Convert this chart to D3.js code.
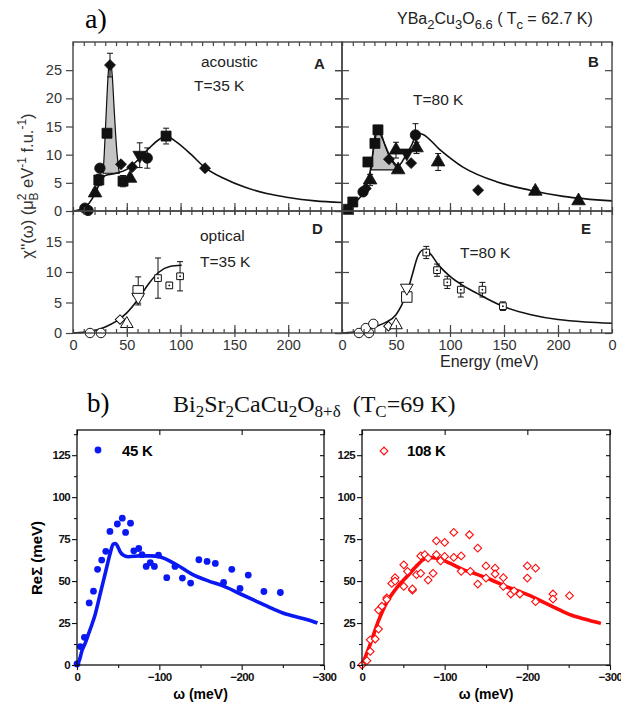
<!DOCTYPE html>
<html>
<head>
<meta charset="utf-8">
<script src="https://cdn.jsdelivr.net/npm/d3@7"></script>
<style>
  body { margin: 0; background: #fff; }
  svg { display: block; }
</style>
</head>
<body>
<div id="vis"></div>
<script>
// ---------- data: a) YBa2Cu3O6.6 ----------
const ENERGY_TICKS = [0, 50, 100, 150, 200, 250];
const ENERGY_MINOR = d3.range(0, 251, 10);
const CHI_TICKS_TOP = [0, 5, 10, 15, 20, 25];
const CHI_TICKS_BOT = [0, 5, 10, 15];

// acoustic, T=35 K  (e = energy meV, v = chi'', m = marker, err = error bar)
const acoustic35 = [
  {e: 11, v: 0.5, m: "circle"}, {e: 14, v: 0.1, m: "circle"}, {e: 13, v: 0.3, m: "diamond"},
  {e: 20.5, v: 3.2, m: "triangle", err: 0.6}, {e: 24, v: 5.5, m: "square", err: 1},
  {e: 25, v: 7.6, m: "circle"}, {e: 31.6, v: 13.8, m: "square"},
  {e: 34.4, v: 25.9, m: "diamond", err: 2.1}, {e: 44.6, v: 8.3, m: "diamond"},
  {e: 46.5, v: 5.3, m: "square", err: 1, xerr: 3}, {e: 53, v: 5.8, m: "triangle"},
  {e: 55, v: 7.8, m: "diamond"}, {e: 62, v: 9.9, m: "down", err: 2.2},
  {e: 69, v: 9.4, m: "circle", err: 1.8}, {e: 86.5, v: 13.3, m: "square", err: 1.4},
  {e: 122.7, v: 7.6, m: "diamond"}
];
// acoustic, T=80 K
const acoustic80 = [
  {e: 6, v: 0.3, m: "square"}, {e: 10, v: 1.6, m: "square"}, {e: 19.5, v: 3.4, m: "circle"},
  {e: 22, v: 4, m: "diamond"}, {e: 26, v: 5.5, m: "triangle", err: 1},
  {e: 24, v: 8.7, m: "square"}, {e: 30.5, v: 12, m: "square"},
  {e: 33.3, v: 14.4, m: "square", err: 0.8}, {e: 43.5, v: 9.2, m: "diamond"},
  {e: 50, v: 10.8, m: "triangle", err: 1.4}, {e: 52, v: 7.3, m: "triangle"},
  {e: 60, v: 10.3, m: "down"}, {e: 64, v: 8.5, m: "diamond"},
  {e: 69, v: 11.2, m: "triangle", err: 1}, {e: 68, v: 13.5, m: "circle", err: 2},
  {e: 89, v: 8.7, m: "triangle", err: 1.5}, {e: 126, v: 3.7, m: "diamond"},
  {e: 179, v: 3.5, m: "triangle", err: 0.6}, {e: 219, v: 1.8, m: "triangle", err: 0.5}
];
// optical, T=35 K
const optical35 = [
  {e: 15.8, v: 0, m: "circle"}, {e: 26, v: 0, m: "circle", err: 0.4},
  {e: 43.7, v: 2.2, m: "diamond"}, {e: 50, v: 1.5, m: "triangle"},
  {e: 60.6, v: 6.9, m: "osq", err: 2.3}, {e: 60.6, v: 5.9, m: "down", err: 1},
  {e: 79, v: 9, m: "dsq", err: 3.3}, {e: 89.5, v: 7.8, m: "dsq", err: 0.5},
  {e: 99.5, v: 9.3, m: "dsq", err: 2.4}
];
// optical, T=80 K
const optical80 = [
  {e: 15.7, v: 0, m: "circle"}, {e: 25, v: 0, m: "circle"}, {e: 22, v: 0.8, m: "circle"},
  {e: 29, v: 1.5, m: "circle"}, {e: 43, v: 1.1, m: "diamond"}, {e: 50, v: 1.3, m: "triangle"},
  {e: 60, v: 5.9, m: "osq"}, {e: 60, v: 7.4, m: "down"},
  {e: 78, v: 13.2, m: "dsq", err: 1}, {e: 88, v: 10.3, m: "dsq", err: 1},
  {e: 97.5, v: 8.3, m: "dsq", err: 1}, {e: 110, v: 7.1, m: "dsq", err: 1.2, xerr: 2.5},
  {e: 130, v: 7.1, m: "dsq", err: 1.2, xerr: 2.5}, {e: 149, v: 4.4, m: "dsq", err: 0.7, xerr: 2.5}
];

// model curves [energy, chi'']
const fitA = [[0,0],[10,0.5],[20,2.9],[25,5],[30,6.3],[40,6.7],[50,7.4],[60,9],[70,11],[80,12.7],[87,13.3],[95,12.4],
  [110,10],[122,7.8],[140,5.8],[160,4.2],[180,3.1],[200,2.4],[225,1.8],[250,1.5]];
const fitB = [[0,0],[10,1.2],[20,3.5],[26,7],[30,12],[33,14.5],[37,13],[45,9.5],[52,8],[58,9.5],[64,11.5],[70,13.8],
  [75,13.6],[90,11],[112,7.8],[143,5.2],[174,3.7],[205,2.6],[250,1.8]];
const fitD = [[0,0],[10,0.1],[20,0.4],[30,1],[40,1.9],[50,3.3],[60,5.4],[70,8],[80,10],[90,10.9],[101,11.1]];
const fitE = [[0,0],[10,0.1],[20,0.4],[30,1],[40,1.7],[50,3],[55,4.5],[60,6.5],[65,9.5],[70,12.5],[75,13.6],[80,13.3],
  [90,11],[100,9.3],[110,8],[125,6.5],[150,4.3],[175,3],[200,2.2],[225,1.8],[250,1.6]];
// shaded resonance peaks
const peakA = [[28,6.7],[29,10],[30.5,16],[32,22],[33.5,26],[35,26.5],[36.5,24],[38,19],[39.5,14],[41,10],[43,6.7]];
const peakB = [[27,7.3],[29,11],[31,14],[33.5,14.8],[36,14],[40,11.5],[45,9.3],[52,7.3]];

// ---------- data: b) Bi2Sr2CaCu2O8+d ----------
const OMEGA_TICKS = [0, -100, -200, -300];
const OMEGA_MINOR = [-50, -150, -250];
const RESIGMA_TICKS = [0, 25, 50, 75, 100, 125];
const RESIGMA_MINOR = [12.5, 37.5, 62.5, 87.5, 112.5, 137.5];

const dots45K = [[0,0.6],[-4,11],[-9,16.5],[-14.8,37],[-20,44],[-25,57],[-30,62.5],[-35,67.7],[-40,79.6],[-49,84],
  [-55,87.5],[-59,79],[-65,84.5],[-69,68],[-75,69.4],[-79,65.7],[-84,58.7],[-89,61],[-94,58.7],[-99,65.5],
  [-109,52],[-119,58.7],[-128,51.8],[-138,48.8],[-148,62.7],[-158,61.7],[-168,60.5],[-178,49.2],[-188,57],
  [-198,45.6],[-208,53.6],[-227,43.8],[-247,43.2]];
const model45K = [[0,0],[-3,3],[-6,8.5],[-10,13],[-14,18.5],[-18,24],[-22,30],[-28,42],[-32,50],[-35,56],[-40,66],
  [-44,72],[-47,72.4],[-50,70],[-53,67],[-56,65.5],[-62,64.5],[-76,65],[-90,65],[-100,64.5],[-120,60],[-140,54],
  [-160,50],[-178,47],[-200,42],[-220,37.5],[-240,33],[-250,31],[-260,29.5],[-280,27],[-292,25]];
const dots108K = [[0,0],[-6,2.6],[-10,8.1],[-10,15],[-16,15.5],[-20,21.4],[-20,32.7],[-24,35],[-30,40],[-30,39],
  [-36,48.6],[-40,52],[-40,50],[-50.6,59.7],[-50.6,46.8],[-55,55.8],[-61,44.6],[-61,45.3],[-66,53.8],[-71,54.6],
  [-71,65],[-76,65.7],[-80,50.6],[-80,63.7],[-86,54.6],[-90,74],[-90,65.7],[-95,62],[-100,73],[-100,64.7],
  [-111,79],[-111,64.1],[-120,55.8],[-120,65],[-130,77.6],[-131,55.8],[-140,69.6],[-140,48.2],[-150,59],
  [-150,51.8],[-161,57.7],[-161,54.2],[-171,52],[-171,46.8],[-180,42.3],[-184,44.2],[-191,42.3],[-200,59],
  [-200,51.8],[-210,57.7],[-210,37.7],[-231,42.3],[-231,39.3],[-251,41.3]];
const model108K = [[0,0],[-5,6],[-10,12.5],[-20,26.4],[-30,37.3],[-42,46],[-55,53],[-67,59.5],[-75,63],[-83,64],
  [-95,63],[-107,60.5],[-123,56.7],[-139,54],[-156,50.8],[-172,47.2],[-188,44.2],[-204,41.2],[-220,37.3],
  [-237,33.3],[-253,29.8],[-269,27.4],[-289,24.8]];

// ---------- frame ----------
const WIDTH = 621, HEIGHT = 704;
const SANS = "'Liberation Sans', Arial, sans-serif";
const SERIF = "'Liberation Serif', 'Times New Roman', serif";

const svg = d3.select("#vis").append("svg")
  .attr("width", WIDTH).attr("height", HEIGHT)
  .style("background", "#fff");

// ---------- a) four small panels ----------
const topPanels = [
  {name: "A", x0: 73, x1: 342, y0: 42, y1: 211, ymax: 30, yTicks: CHI_TICKS_TOP, pts: acoustic35, fit: fitA, peak: peakA, open: false, leftLabels: true, bottomLabels: false},
  {name: "B", x0: 342, x1: 612, y0: 42, y1: 211, ymax: 30, yTicks: CHI_TICKS_TOP, pts: acoustic80, fit: fitB, peak: peakB, open: false, leftLabels: false, bottomLabels: false},
  {name: "D", x0: 73, x1: 342, y0: 211, y1: 333, ymax: 20, yTicks: CHI_TICKS_BOT, pts: optical35, fit: fitD, peak: null, open: true, leftLabels: true, bottomLabels: true},
  {name: "E", x0: 342, x1: 612, y0: 211, y1: 333, ymax: 20, yTicks: CHI_TICKS_BOT, pts: optical80, fit: fitE, peak: null, open: true, leftLabels: false, bottomLabels: true}
];

function markerPath(m, open) {
  const sym = d3.symbol();
  if (m === "square") return sym.type(d3.symbolSquare).size(100)();
  if (m === "osq") return sym.type(d3.symbolSquare).size(110)();
  if (m === "dsq") return sym.type(d3.symbolSquare).size(45)();
  if (m === "circle") return sym.type(d3.symbolCircle).size(open ? 70 : 85)();
  if (m === "diamond") return sym.type(d3.symbolSquare).size(open ? 45 : 60)();
  return sym.type(d3.symbolTriangle).size(open ? 70 : 80)();
}
function markerRotate(m) {
  if (m === "diamond") return 45;
  if (m === "down") return 180;
  return 0;
}

topPanels.forEach(p => {
  const x = d3.scaleLinear().domain([0, 250]).range([p.x0, p.x1]);
  const y = d3.scaleLinear().domain([0, p.ymax]).range([p.y1, p.y0]);
  const g = svg.append("g");

  // fit line
  const line = d3.line().x(d => x(d[0])).y(d => y(d[1])).curve(d3.curveMonotoneX);
  if (p.peak) {
    g.append("path").datum(p.peak)
      .attr("d", d3.line().x(d => x(d[0])).y(d => y(d[1])).curve(d3.curveMonotoneX)(p.peak) + "Z")
      .attr("fill", "#c4c4c4").attr("stroke", "#111").attr("stroke-width", 1.2);
  }
  g.append("path").datum(p.fit)
    .attr("d", line)
    .attr("fill", "none").attr("stroke", "#111").attr("stroke-width", 1.6);

  // error bars
  const eb = g.append("g").attr("stroke", "#111").attr("stroke-width", 1);
  p.pts.filter(d => d.err).forEach(d => {
    eb.append("line").attr("x1", x(d.e)).attr("x2", x(d.e)).attr("y1", y(d.v - d.err)).attr("y2", y(d.v + d.err));
    [d.v - d.err, d.v + d.err].forEach(v => {
      eb.append("line").attr("x1", x(d.e) - 3).attr("x2", x(d.e) + 3).attr("y1", y(v)).attr("y2", y(v));
    });
  });
  p.pts.filter(d => d.xerr).forEach(d => {
    eb.append("line").attr("x1", x(d.e - d.xerr)).attr("x2", x(d.e + d.xerr)).attr("y1", y(d.v)).attr("y2", y(d.v));
  });

  // markers
  g.selectAll("path.mk").data(p.pts).enter().append("path")
    .attr("class", "mk")
    .attr("d", d => markerPath(d.m, p.open))
    .attr("transform", d => `translate(${x(d.e)},${y(d.v)}) rotate(${markerRotate(d.m)})`)
    .attr("fill", p.open ? "#fff" : "#111")
    .attr("stroke", "#111").attr("stroke-width", p.open ? 1 : 0.8);
  if (p.open) {
    g.selectAll("circle.dot").data(p.pts.filter(d => d.m === "dsq")).enter().append("circle")
      .attr("cx", d => x(d.e)).attr("cy", d => y(d.v)).attr("r", 0.9).attr("fill", "#111");
  }

  // frame
  g.append("rect").attr("x", p.x0).attr("y", p.y0)
    .attr("width", p.x1 - p.x0).attr("height", p.y1 - p.y0)
    .attr("fill", "none").attr("stroke", "#444").attr("stroke-width", 1.4);

  // axes
  const styleAxis = a => {
    a.select(".domain").remove();
    a.selectAll("line").attr("stroke", "#444").attr("stroke-width", 1.2);
    a.selectAll("text").attr("font-family", SANS).attr("font-size", 14.5).attr("fill", "#333");
  };
  const yl = g.append("g").attr("transform", `translate(${p.x0},0)`)
    .call(d3.axisLeft(y).tickValues(p.yTicks).tickSize(7).tickPadding(4)
      .tickFormat(p.leftLabels ? d3.format("d") : () => ""));
  styleAxis(yl);
  if (!p.leftLabels) {
    g.append("g").attr("transform", `translate(${p.x0},0)`)
      .call(d3.axisRight(y).tickValues(p.yTicks).tickSize(7).tickFormat(() => "")).call(styleAxis);
  }
  g.append("g").attr("transform", `translate(${p.x1},0)`)
    .call(d3.axisLeft(y).tickValues(p.yTicks).tickSize(7).tickFormat(() => "")).call(styleAxis);
  g.append("g").attr("transform", `translate(0,${p.y0})`)
    .call(d3.axisBottom(x).tickValues(ENERGY_MINOR).tickSize(4).tickFormat(() => "")).call(styleAxis);
  g.append("g").attr("transform", `translate(0,${p.y1})`)
    .call(d3.axisTop(x).tickValues(ENERGY_MINOR).tickSize(4).tickFormat(() => "")).call(styleAxis);
  // major energy ticks crossing the bottom line
  const xb = g.append("g").attr("transform", `translate(0,${p.y1})`)
    .call(d3.axisBottom(x).tickValues(ENERGY_TICKS.slice(1, 5)).tickSize(4).tickPadding(3)
      .tickFormat(p.bottomLabels ? d3.format("d") : () => ""));
  styleAxis(xb);
  g.append("g").attr("transform", `translate(0,${p.y1})`)
    .call(d3.axisTop(x).tickValues(ENERGY_TICKS.slice(1, 5)).tickSize(8).tickFormat(() => "")).call(styleAxis);
  if (p.bottomLabels) {
    const ends = g.append("g").attr("transform", `translate(0,${p.y1})`)
      .call(d3.axisBottom(x).tickValues(p.name === "D" ? [0] : [0, 250]).tickSize(0).tickPadding(7)
        .tickFormat(d => d === 250 ? "0" : d3.format("d")(d)));
    styleAxis(ends);
  }
});

// panel annotations
const ann = svg.append("g").attr("font-family", SANS).attr("fill", "#222");
ann.append("text").attr("x", 314).attr("y", 69).attr("font-size", 15).attr("font-weight", "bold").text("A");
ann.append("text").attr("x", 588).attr("y", 67).attr("font-size", 15).attr("font-weight", "bold").text("B");
ann.append("text").attr("x", 312).attr("y", 234).attr("font-size", 15).attr("font-weight", "bold").text("D");
ann.append("text").attr("x", 581).attr("y", 234).attr("font-size", 15).attr("font-weight", "bold").text("E");
ann.append("text").attr("x", 201).attr("y", 67).attr("font-size", 15.5).text("acoustic");
ann.append("text").attr("x", 194).attr("y", 91).attr("font-size", 15.5).text("T=35 K");
ann.append("text").attr("x", 413).attr("y", 105).attr("font-size", 15.5).text("T=80 K");
ann.append("text").attr("x", 200).attr("y", 241).attr("font-size", 15.5).text("optical");
ann.append("text").attr("x", 200).attr("y", 267).attr("font-size", 15.5).text("T=35 K");
ann.append("text").attr("x", 460).attr("y", 258).attr("font-size", 15.5).text("T=80 K");
ann.append("text").attr("x", 440).attr("y", 367).attr("font-size", 16).text("Energy (meV)");

// y label for a)
const yLab = svg.append("text")
  .attr("transform", "translate(33,186) rotate(-90)")
  .attr("text-anchor", "middle")
  .attr("font-family", SANS).attr("font-size", 16.5).attr("fill", "#333");
yLab.append("tspan").text("\u03c7''(\u03c9)  (\u03bc");
yLab.append("tspan").attr("font-size", 12).attr("dy", -7).text("2");
yLab.append("tspan").attr("font-size", 12).attr("dx", -7).attr("dy", 12).text("B");
yLab.append("tspan").attr("dy", -5).text(" eV");
yLab.append("tspan").attr("font-size", 12).attr("dy", -7).text("-1");
yLab.append("tspan").attr("dy", 7).text(" f.u.");
yLab.append("tspan").attr("font-size", 12).attr("dy", -7).text("-1");
yLab.append("tspan").attr("dy", 7).text(")");

// titles for a)
svg.append("text").attr("x", 85).attr("y", 28).attr("font-family", SERIF).attr("font-size", 28).text("a)");
const tA = svg.append("text").attr("x", 397).attr("y", 24).attr("font-family", SANS).attr("font-size", 16).attr("fill", "#222");
[["YBa", 0], ["2", 1], ["Cu", 0], ["3", 1], ["O", 0], ["6.6", 1], [" ( T", 0], ["c", 1], [" = 62.7 K)", 0]]
  .reduce((prev, [s, sub]) => {
    tA.append("tspan").attr("font-size", sub ? 13 : 16).attr("dy", sub === prev ? 0 : (sub ? 5 : -5)).text(s);
    return sub;
  }, 0);

// ---------- b) two panels ----------
const botPanels = [
  {x0: 77, x1: 324, dots: dots45K, model: model45K, color: "#0a18f2", open: false, label: "45 K"},
  {x0: 362, x1: 610, dots: dots108K, model: model108K, color: "#ff0a0a", open: true, label: "108 K"}
];
const BY0 = 430, BY1 = 665;

botPanels.forEach(p => {
  const x = d3.scaleLinear().domain([0, -300]).range([p.x0, p.x1]);
  const y = d3.scaleLinear().domain([0, 140]).range([BY1, BY0]);
  const g = svg.append("g");

  g.append("path").datum(p.model)
    .attr("d", d3.line().x(d => x(d[0])).y(d => y(d[1])).curve(d3.curveMonotoneX))
    .attr("fill", "none").attr("stroke", p.color).attr("stroke-width", 3.6).attr("stroke-linejoin", "round");

  if (p.open) {
    g.selectAll("path.dm").data(p.dots).enter().append("path")
      .attr("d", d3.symbol().type(d3.symbolSquare).size(30)())
      .attr("transform", d => `translate(${x(d[0])},${y(d[1])}) rotate(45)`)
      .attr("fill", "#fff").attr("stroke", p.color).attr("stroke-width", 1.1);
  } else {
    g.selectAll("circle.dt").data(p.dots).enter().append("circle")
      .attr("cx", d => x(d[0])).attr("cy", d => y(d[1])).attr("r", 3.4).attr("fill", p.color);
  }

  g.append("rect").attr("x", p.x0).attr("y", BY0).attr("width", p.x1 - p.x0).attr("height", BY1 - BY0)
    .attr("fill", "none").attr("stroke", "#111").attr("stroke-width", 1.3);

  const styleAxis = a => {
    a.select(".domain").remove();
    a.selectAll("line").attr("stroke", "#111").attr("stroke-width", 1.1);
    a.selectAll("text").attr("font-family", SANS).attr("font-size", 11.5).attr("font-weight", "bold")
      .attr("letter-spacing", -0.6).attr("fill", "#111");
  };
  g.append("g").attr("transform", `translate(${p.x0},0)`)
    .call(d3.axisLeft(y).tickValues(RESIGMA_TICKS).tickSize(5).tickPadding(2)).call(styleAxis);
  g.append("g").attr("transform", `translate(${p.x0},0)`)
    .call(d3.axisLeft(y).tickValues(RESIGMA_MINOR).tickSize(3).tickFormat(() => "")).call(styleAxis);
  g.append("g").attr("transform", `translate(${p.x1},0)`)
    .call(d3.axisLeft(y).tickValues(RESIGMA_TICKS.concat(RESIGMA_MINOR)).tickSize(4).tickFormat(() => "")).call(styleAxis);
  g.append("g").attr("transform", `translate(0,${BY1})`)
    .call(d3.axisBottom(x).tickValues(OMEGA_TICKS).tickSize(5).tickPadding(3)).call(styleAxis);
  g.append("g").attr("transform", `translate(0,${BY1})`)
    .call(d3.axisBottom(x).tickValues(OMEGA_MINOR).tickSize(3).tickFormat(() => "")).call(styleAxis);
  g.append("g").attr("transform", `translate(0,${BY0})`)
    .call(d3.axisBottom(x).tickValues(OMEGA_TICKS).tickSize(5).tickFormat(() => "")).call(styleAxis);

  // x label
  g.append("text").attr("x", (p.x0 + p.x1) / 2).attr("y", 699).attr("text-anchor", "middle")
    .attr("font-family", SANS).attr("font-size", 14).attr("font-weight", "bold").text("\u03c9 (meV)");

  // legend
  if (p.open) {
    g.append("path").attr("d", d3.symbol().type(d3.symbolSquare).size(30)())
      .attr("transform", `translate(${p.x0 + 22},451) rotate(45)`)
      .attr("fill", "#fff").attr("stroke", p.color).attr("stroke-width", 1.1);
  } else {
    g.append("circle").attr("cx", p.x0 + 21).attr("cy", 450).attr("r", 3.4).attr("fill", p.color);
  }
  g.append("text").attr("x", p.x0 + 45).attr("y", 456).attr("font-family", SANS)
    .attr("font-size", 15).attr("font-weight", "bold").attr("letter-spacing", -0.3).text(p.label);
});

svg.append("text").attr("transform", "translate(42,558) rotate(-90)").attr("text-anchor", "middle")
  .attr("font-family", SANS).attr("font-size", 15).attr("font-weight", "bold").text("Re\u03a3 (meV)");

// titles for b)
svg.append("text").attr("x", 87).attr("y", 412).attr("font-family", SERIF).attr("font-size", 27).text("b)");
const tB = svg.append("text").attr("x", 173).attr("y", 412).attr("font-family", SERIF).attr("font-size", 24).attr("fill", "#111");
[["Bi", 0], ["2", 1], ["Sr", 0], ["2", 1], ["CaCu", 0], ["2", 1], ["O", 0], ["8+\u03b4", 1], ["  (T", 0], ["C", 1], ["=69 K)", 0]]
  .reduce((prev, [s, sub]) => {
    tB.append("tspan").attr("font-size", sub ? 17 : 24).attr("dy", sub === prev ? 0 : (sub ? 5 : -5))
      .attr("xml:space", "preserve").text(s);
    return sub;
  }, 0);
</script>
</body>
</html>
